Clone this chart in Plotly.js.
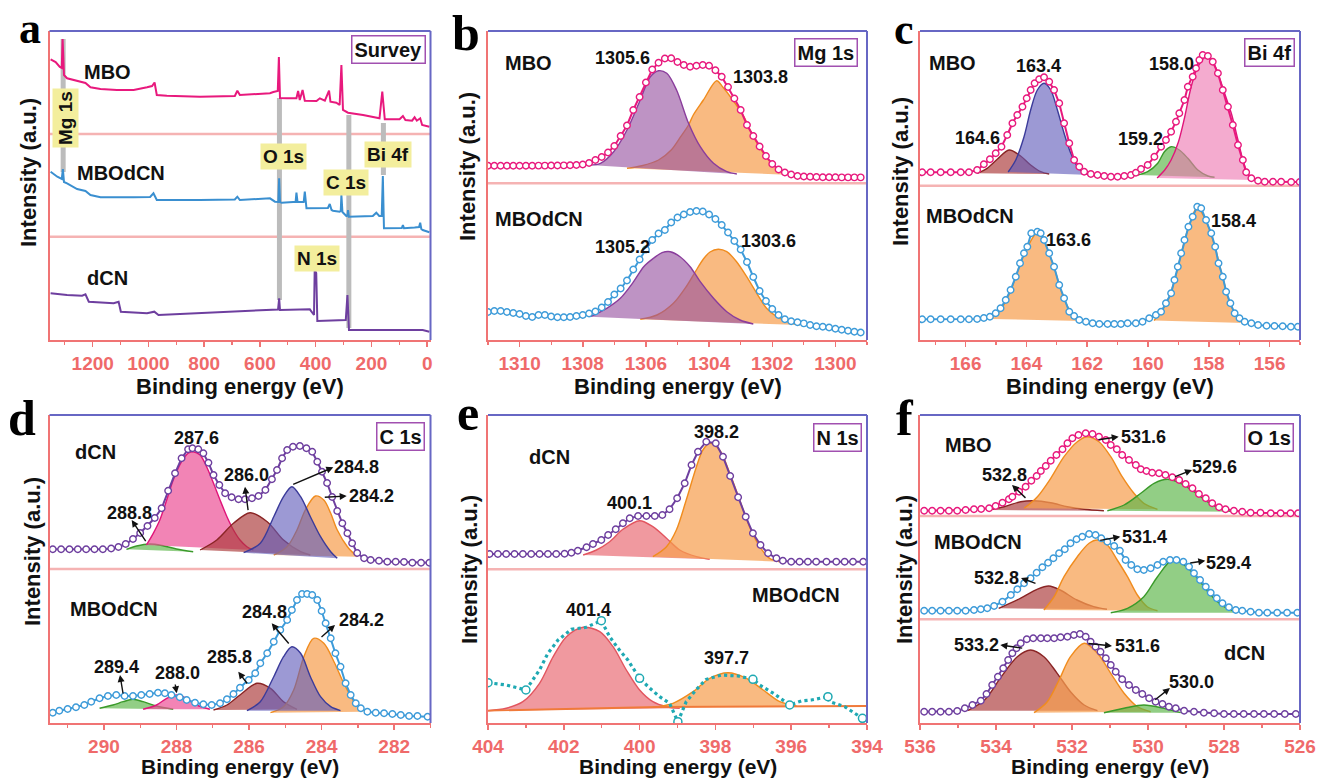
<!DOCTYPE html>
<html><head><meta charset="utf-8">
<script src="https://cdn.plot.ly/plotly-3.0.1.min.js"></script>
<style>html,body{margin:0;padding:0;background:#fff}#chart{width:1317px;height:779px}</style>
</head><body><div id="chart"></div>
<script>
// ---------------- DATA ----------------
// (a) Survey spectra: binding energy (eV) and stacked intensity (a.u.)
const a_mbo_x = [1351,1333,1318,1311,1308,1303,1292,1256,1226,1208,1172,1113,1053,1005,987,978,970,934,815,690,681,672,564,552,536,532,528,504,469,463,457,447,439,397,385,367,352,347,326,314,307.7,302,284,230,171,161,152,99,87,78,54,45,37,25,18,-8];
const a_mbo_y = [279.7,277,272,271,300,264,260.7,258,256,251.7,250,249,249,251.7,253,256.5,244,243.3,242.3,243,248.3,244,245.7,247,248,282,241,240.7,240.7,248,239,249,238.3,238,240.7,238.3,248.3,237.3,236.3,234,274,229,226.3,224,220.7,247.3,219.7,219.7,223,219,218.3,221.7,218.3,220.7,214,212.3];
const a_bcn_x = [1351,1327,1311,1307,1303,1292,1256,1226,1208,1172,1053,994,982,970,815,690,681,672,564,546,534,531,528,522,481,472,469,465,443,439,433,385,356,349.5,343,338,314,310,307.7,304,290,286,284,281,195,182.5,172,163,159,155,150,99,91,87,83,45,29,25,21,16,-8];
const a_bcn_y = [167.3,162.3,160,170,157,155.7,150,148,144,141.7,141.7,142,145.7,139,139,139.5,142.3,139,140.7,137.3,137,160.7,137,136.3,137,137,146.3,137,137,147.3,130.7,130.7,131,135,129,128.3,127.3,128,144,127,123,123.5,129,122.3,123,126.3,123,123,163,110.7,110.7,110.7,111,114,110.7,111.5,112,116.3,110,109,106.7];
const a_dcn_x = [1351,1292,1238,1226,1214,1125,1107,1099,1005,979,964,815,552,535,531,528,421,409,406,403.5,398,394,314,295,292,286,280.5,16,-8];
const a_dcn_y = [45.7,44,43.3,44.7,37.3,35.7,37.3,27.3,25.7,27.3,24,25.7,29,29.5,40.7,29,29.7,24,24,69,66,18,19,19.5,19,44,9,9,7.3];
const a_bar_ev = [1306, 530, 281, 157];
const a_bar_top = [300, 241, 224, 216];
const a_bar_bot = [167, 39, 11, 164];

// (b) Mg 1s
const b_x = [1311.0,1310.8,1310.6,1310.4,1310.2,1310.0,1309.8,1309.6,1309.4,1309.2,1309.0,1308.8,1308.6,1308.4,1308.2,1308.0,1307.8,1307.6,1307.4,1307.2,1307.0,1306.8,1306.6,1306.4,1306.2,1306.0,1305.8,1305.6,1305.4,1305.2,1305.0,1304.8,1304.6,1304.4,1304.2,1304.0,1303.8,1303.6,1303.4,1303.2,1303.0,1302.8,1302.6,1302.4,1302.2,1302.0,1301.8,1301.6,1301.4,1301.2,1301.0,1300.8,1300.6,1300.4,1300.2,1300.0,1299.8,1299.6,1299.4,1299.2];
const b_mbo_env = [173.3,173.3,173.3,173.3,173.3,173.3,173.3,173.3,173.4,173.4,173.5,173.5,173.6,173.8,174,174.5,176,179,182,186.5,193,203,213.5,229,242,256.5,269.5,276.3,280.5,280.7,277,274,272.3,273.3,274,273.3,268.7,262.3,252,240.5,229,214,203,192.5,183,175,169.5,166.5,164.5,163,162.5,162.2,162,161.8,161.7,161.7,161.6,161.6,161.6,161.6];
const b_bcn_env = [27,28,28,27,26,25,23,22,24,24,22.5,21.7,21.7,22,23,24,25.5,27.5,31.5,37,44.5,50.5,58.5,69.5,79.5,89.5,99,105.5,109,116.5,121.5,124.5,127,128,127.5,124.5,120,114,106.5,98,89.5,77,62,48,38,30,24,19.7,17.8,16.7,15.6,14,12.8,12.3,11.5,10.3,9.2,8.2,7.2,6.5];
const b_mbo_p1_x = [1307.8,1307.44,1307.02,1306.6,1306.18,1305.86,1305.6,1305.34,1305.03,1304.65,1304.28,1303.86,1303.44,1303.12];
const b_mbo_p1_y = [174,175.7,187.3,209,239,262.3,268.3,265.7,249,215.7,192.3,175.7,167.3,165];
const b_mbo_p2_x = [1306.6,1306.13,1305.6,1305.2,1304.9,1304.65,1304.5,1304.18,1303.76,1303.56,1303.25,1302.9,1302.6,1302.28,1301.97,1301.65,1301.34];
const b_mbo_p2_y = [170.7,173.3,179,189,202.3,214,224,239,258.3,251.7,239,222.3,202.3,185.7,174,167.3,164];
const b_bcn_p1_x = [1307.76,1307.24,1306.81,1306.39,1306.07,1305.76,1305.49,1305.23,1304.92,1304.6,1304.28,1303.86,1303.44,1303.02,1302.6];
const b_bcn_p1_y = [22.3,30.7,40.7,57.3,72.3,80.7,86.3,87.3,82.3,72.3,57.3,40.7,27.3,19,15];
const b_bcn_p2_x = [1306.18,1305.65,1305.13,1304.71,1304.44,1304.18,1303.97,1303.71,1303.44,1303.13,1302.81,1302.49,1302.18,1301.86,1301.44,1301.13];
const b_bcn_p2_y = [19.7,24,35.7,53,67,80,87,89.7,87.3,77.3,62.3,45.7,30.7,22.3,16.3,14];

// (c) Bi 4f
const c_mbo_x = [167.43,167.15,166.82,166.49,166.16,165.89,165.62,165.4,165.2,165.01,164.82,164.63,164.46,164.3,164.13,163.99,163.86,163.73,163.58,163.42,163.25,163.09,162.92,162.76,162.59,162.43,162.26,162.1,161.88,161.66,161.44,161.22,161.0,160.78,160.56,160.4,160.23,160.01,159.79,159.57,159.41,159.24,159.08,158.97,158.8,158.69,158.53,158.42,158.31,158.2,158.03,157.87,157.7,157.54,157.37,157.21,157.04,156.88,156.77,156.6,156.38,156.16,155.89,155.62,155.29,155.01];
const c_mbo_y = [167.7,167.7,167.7,167.7,167.7,167.7,170,175.7,180.7,186.7,193.3,205,216.7,225,233.3,241.7,250,256.7,260.7,262.7,258.3,250,236.7,216.7,196.7,180,173.3,168.3,166,165,164,163.3,163.3,164,165,167.3,171,175,183.3,193.3,200,208.3,218.3,226.7,240,253.3,263.3,271.7,280,285,284,278.3,266.7,250,233.3,215,195,180,167.7,161.7,159.3,158.3,158.3,158.3,158,158];
const c_bcn_x = [167.43,167.15,166.82,166.49,166.16,165.89,165.62,165.4,165.2,165.01,164.85,164.68,164.52,164.35,164.21,164.08,163.97,163.84,163.64,163.53,163.42,163.25,163.09,162.92,162.76,162.59,162.43,162.26,162.04,161.82,161.6,161.33,161.11,160.89,160.67,160.4,160.18,159.96,159.74,159.57,159.41,159.24,159.13,159.02,158.91,158.8,158.67,158.53,158.38,158.25,158.09,157.92,157.79,157.68,157.54,157.43,157.29,157.15,156.99,156.82,156.6,156.38,156.1,155.84,155.57,155.3,155.07];
const c_bcn_y = [20.7,20.7,20.7,20.7,20.7,20.7,21,22,23.3,26.7,31.7,40,50,63.3,76.7,86.7,93.3,106.7,108.3,106.7,100,86.7,73.3,55,41.7,28.3,24,20,18.3,16.7,16,16,16,16,16.7,16.7,18.3,21.7,25,28.3,36.7,46.7,60,73.3,86.7,100,113.3,123.3,133.3,131.7,120,106.7,93.3,76.7,63.3,48.3,36.7,26.7,21.7,18.3,16.7,15,14.3,14,13.7,13.3,13.3];
const c_mbo_r_x = [165.62,165.29,164.96,164.57,164.19,163.86,163.53,163.25];
const c_mbo_r_y = [166.7,171.7,180.7,190,184,175,168.3,166];
const c_mbo_b_x = [164.6,164.35,164.08,163.86,163.64,163.42,163.2,162.98,162.76,162.54,162.32,162.1,161.88];
const c_mbo_b_y = [168,180,203,230,250,256.7,250,230,206.7,186.7,173.3,166.7,165];
const c_mbo_g_x = [160.34,160.01,159.68,159.46,159.24,158.97,158.69,158.36,158.03,157.81];
const c_mbo_g_y = [165,168.3,176.7,188.3,193.3,190,181.7,170,164,162.7];
const c_mbo_p_x = [159.7,159.45,159.24,159.0,158.8,158.58,158.36,158.09,157.87,157.7,157.48,157.26,157.04,156.88,156.71,156.5];
const c_mbo_p_y = [162,170,180,198,222,253.3,273.3,283.3,278.3,266.7,246.7,226.7,200,180,166,160];
const c_bcn_o1_x = [165.2,164.85,164.52,164.21,163.97,163.64,163.42,163.09,162.76,162.43,162.2];
const c_bcn_o1_y = [21,30,49,75.5,92.5,107.5,99,72.5,41,23,19];
const c_bcn_o2_x = [159.8,159.41,159.13,158.91,158.67,158.38,158.09,157.79,157.54,157.29,157.0,156.8];
const c_bcn_o2_y = [19.5,35.5,59,86,112.5,132.5,119,92.5,62.5,36,20.5,17];

// (d) C 1s
const d_dcn_x = [291.41,291.18,290.95,290.72,290.49,290.26,290.03,289.8,289.6,289.4,289.2,289.0,288.8,288.6,288.41,288.23,288.04,287.86,287.68,287.56,287.4,287.26,287.12,286.98,286.82,286.66,286.48,286.29,286.11,285.92,285.74,285.55,285.37,285.23,285.09,284.95,284.79,284.6,284.42,284.26,284.12,283.99,283.85,283.71,283.57,283.43,283.29,283.16,283.02,282.83,282.65,282.42,282.19,281.96,281.73,281.5,281.26,281.03];
const d_dcn_y = [173.7,173.7,173.7,173.7,173.7,173.7,173.7,174.5,176,179,184,190,197,205,214.7,232.3,249.7,264.7,273.7,274.7,273.7,269.7,260.3,248,238,229.7,225.7,223.7,223.7,224.7,227,233,243.7,253,264.7,273,276.3,277,274.7,271.3,261.3,251.3,240,226,212,199.7,189.7,179.7,170,164.7,163,162.3,161.3,161.3,161,160.3,160.3,160.3];
const d_bcn_x = [291.41,291.23,291.0,290.77,290.54,290.35,290.12,289.89,289.66,289.43,289.2,288.97,288.74,288.51,288.32,288.14,287.91,287.72,287.49,287.26,287.03,286.8,286.61,286.43,286.25,286.01,285.83,285.69,285.5,285.32,285.14,284.95,284.82,284.68,284.54,284.4,284.26,284.12,284.0,283.89,283.75,283.62,283.48,283.34,283.2,283.06,282.92,282.74,282.51,282.28,282.05,281.82,281.59,281.36,281.08];
const d_bcn_y = [10.3,12.3,14,15.7,18,21.3,24.7,27,28,27,27,28,29,30.3,29.7,28,25.7,23,20.3,18.7,18,19.7,23.7,29,35.3,43,49.7,59.7,69.7,81.3,93,103,113,123,129,129,128,123,112,99.7,84.7,69.7,56.3,39.7,28,19.7,14.7,11.3,10.3,9.7,9,8,7,7,6.3];
const d_dcn_g_x = [289.38,289.1,288.74,288.4,288.0,287.54];
const d_dcn_g_y = [173.7,177,179,177.5,174,171.3];
const d_dcn_pk_x = [288.83,288.64,288.46,288.27,288.09,287.86,287.68,287.54,287.35,287.17,286.98,286.8,286.61,286.43,286.25,286.06,285.88];
const d_dcn_pk_y = [178,189.7,203,223,243,261.3,269.7,271.3,268,256.3,239.7,223,206.3,193,183,176.3,173];
const d_dcn_br_x = [287.35,286.89,286.43,285.97,285.5,285.05,284.58,284.31];
const d_dcn_br_y = [173,183,199.7,210.3,201.3,183,171.3,168];
const d_dcn_bl_x = [286.15,285.69,285.32,285.05,284.82,284.58,284.31,284.03,283.75,283.57];
const d_dcn_bl_y = [170.3,179.7,206.3,226.3,236.3,226.3,206.3,186.3,171.3,164.7];
const d_dcn_or_x = [285.32,284.95,284.68,284.45,284.17,283.94,283.75,283.57,283.29,283.02];
const d_dcn_or_y = [168,176.3,193,213,227,223,209.7,193,176.3,166.3];
const d_bcn_g_x = [290.12,289.75,289.47,289.2,288.92,288.55,288.09];
const d_bcn_g_y = [14.7,18,21.3,23.7,21.3,17,13.7];
const d_bcn_pk_x = [288.92,288.55,288.27,288.0,287.72,287.44,287.08];
const d_bcn_pk_y = [13.7,18,24.7,28,24.7,18,13.7];
const d_bcn_br_x = [286.98,286.61,286.25,285.78,285.41,285.05,284.68];
const d_bcn_br_y = [13,18,28,39.7,34.7,21.3,13.7];
const d_bcn_bl_x = [286.06,285.69,285.32,285.05,284.82,284.58,284.31,284.03,283.75,283.48];
const d_bcn_bl_y = [12.3,21.3,46.3,66.3,76.3,69.7,46.3,26.3,16.3,12.3];
const d_bcn_or_x = [285.41,285.05,284.77,284.49,284.22,283.94,283.66,283.39,283.11,282.88];
const d_bcn_or_y = [10.3,16.3,33,66.3,84.7,79.7,61.3,39.7,21.3,11.3];

// (e) N 1s
const e_dcn_x = [403.96,403.74,403.52,403.3,403.08,402.86,402.64,402.42,402.2,401.98,401.8,401.63,401.4,401.23,401.01,400.83,400.63,400.44,400.26,400.04,399.82,399.6,399.4,399.21,399.01,398.81,398.63,398.46,398.24,397.99,397.8,397.61,397.4,397.2,397.01,396.81,396.61,396.39,396.22,396.0,395.78,395.56,395.34,395.07,394.81,394.59,394.37,394.1];
const e_dcn_y = [169,169,169,169,169,169,169,169,169,169.3,170.3,172.3,175.7,179,183,188,193.7,199.7,204.7,207,207,207,208,213.7,224.7,239.7,258,271.3,281.3,279.7,266.3,247,225.7,206.3,189.7,178,169.7,164.7,162.3,161.3,161.3,161.3,161.3,161.3,161.3,161.3,161.3,161.3];
const e_dcn_r_x = [401.49,401.14,400.79,400.44,400.0,399.65,399.29,398.94,398.5,398.15];
const e_dcn_r_y = [168,173,181.3,193.7,202.3,196.3,184.7,173,166.3,163.7];
const e_dcn_o_x = [399.65,399.29,399.03,398.77,398.5,398.33,398.15,397.89,397.62,397.36,397.1,396.83,396.57,396.3];
const e_dcn_o_y = [166.3,176.3,193,223,256.3,273,279.7,273,249.7,223,196.3,176.3,164.7,161.3];
const e_bcn_x = [404.0,403.52,403.0,402.64,402.42,402.15,401.8,401.41,401.01,400.79,400.57,400.31,400.0,399.73,399.47,399.21,398.99,398.77,398.5,398.24,397.84,397.4,397.01,396.83,396.44,396.04,395.73,395.47,395.03,394.99,394.59,394.12];
const e_bcn_y = [40.3,38,33,53,69.7,83,93.7,95.7,102.3,86.3,74.7,63,44.7,34.7,26.3,19.7,1.3,21.3,33.7,43.7,48,47,43.7,38,29,18,22,23,26.3,21.3,16.3,4.7];
const e_bcn_pt_x = [404.0,403.0,401.01,400.0,398.99,397.01,396.04,395.03,394.12];
const e_bcn_pt_y = [40.3,33,102.3,44.7,1.3,43.7,18,26.3,4.7];
const e_bcn_r_x = [404.0,403.52,403.08,402.64,402.28,401.93,401.49,401.05,400.7,400.35,400.0,399.65,399.29,398.94];
const e_bcn_r_y = [12.3,14.7,21.3,39.7,66.3,86.3,95.7,91.3,76.3,53,33,21.3,16.3,14.7];
const e_bcn_o_x = [399.65,399.12,398.59,398.15,397.67,397.18,396.74,396.3,395.86];
const e_bcn_o_y = [15.7,19.7,31.3,44.7,50.3,44.7,33,21.3,17];
const e_bcn_base_x = [404, 399.5, 394];
const e_bcn_base_y = [12.3, 16, 17];

// (f) O 1s
const f_mbo_x = [535.89,535.68,535.46,535.24,535.02,534.8,534.58,534.39,534.18,534.01,533.83,533.66,533.57,533.39,533.22,533.07,532.93,532.82,532.69,532.56,532.41,532.25,532.12,531.99,531.83,531.64,531.46,531.29,531.11,530.98,530.82,530.68,530.5,530.32,530.19,530.04,529.89,529.71,529.54,529.36,529.18,529.01,528.83,528.66,528.48,528.31,528.13,527.96,527.74,527.52,527.3,527.04,526.77,526.51,526.25,526.05];
const f_mbo_y = [212.3,212.3,212.3,212.3,212.3,213,213.7,214,214.7,217,220.3,223.7,226.3,231.3,236.3,242.3,247,252,257,262.3,268,273.7,279.7,284.7,288,289.7,289,286.3,283,278,273.7,268,263,258,253.7,252,250.3,249.7,248,245.7,243,239,234.7,229,224.7,219.7,215.7,213.7,212.3,211.3,210.3,210.3,209.7,209.7,209.7,209.7];
const f_bcn_x = [535.89,535.68,535.46,535.24,535.02,534.8,534.58,534.4,534.23,534.05,533.83,533.61,533.44,533.26,533.09,532.93,532.78,532.63,532.49,532.34,532.19,532.04,531.88,531.73,531.55,531.38,531.23,531.07,530.89,530.74,530.59,530.44,530.28,530.11,529.93,529.75,529.6,529.42,529.25,529.07,528.92,528.79,528.63,528.48,528.35,528.19,528.04,527.87,527.69,527.52,527.3,527.08,526.86,526.6,526.34,526.07];
const f_bcn_y = [112.3,112.3,112.3,112.3,112.3,112.3,113,113.7,114.7,117,121.3,128,133.7,139.7,144.7,150.3,155.7,160.3,164.7,169.7,173.7,179.7,183.7,186.3,189,188,184.7,181.3,177,172.3,163,158,153.7,153,154.7,158,161.3,163,163,161.3,156.3,149.7,143,136.3,130.3,124.7,119.7,115.7,113,112.3,111.3,110.3,110.3,110.3,110.3,110.3];
const f_dcn_x = [535.89,535.68,535.46,535.24,535.02,534.82,534.62,534.4,534.25,534.1,533.95,533.81,533.68,533.57,533.46,533.35,533.19,533.02,532.82,532.65,532.47,532.3,532.12,531.95,531.79,531.64,531.51,531.38,531.25,531.11,530.98,530.85,530.68,530.5,530.32,530.15,529.97,529.8,529.62,529.45,529.27,529.05,528.79,528.53,528.26,528.0,527.74,527.48,527.21,526.95,526.68,526.4,526.11];
const f_dcn_y = [11.3,11.3,11.3,11.3,12,14.7,18,22.3,29,38,46.3,54.7,63,69.7,74.7,79.7,83.7,84.7,84.7,84.7,84.7,85.7,86.3,88,89,86.3,81.3,76.3,71.3,64.7,58,51.3,43.7,38,33,29,24.7,21.3,19,16.3,14.7,12.3,11.3,10.3,9.7,9,9,9,9,9,9,9,9];
const f_mbo_br_x = [534.23,533.79,533.35,533.0,532.56,532.12,531.68,531.16];
const f_mbo_br_y = [213,216.3,221.3,222.3,220.3,216.3,213.7,212.3];
const f_mbo_or_x = [533.26,532.91,532.56,532.21,531.86,531.6,531.29,530.98,530.68,530.37,530.11,529.75];
const f_mbo_or_y = [214.7,226.3,244.7,266.3,281.3,286.3,281.3,266.3,246.3,229.7,219.7,213.7];
const f_mbo_gr_x = [531.07,530.63,530.19,529.84,529.49,529.14,528.79,528.44,528.09,527.74];
const f_mbo_gr_y = [212.3,218,229.7,239.7,243.7,239.7,231.3,221.3,214,211.3];
const f_bcn_br_x = [533.93,533.36,532.92,532.61,532.31,531.87,531.43,531.08];
const f_bcn_br_y = [114.7,124.7,133.7,137,133,123,116.3,113.7];
const f_bcn_or_x = [532.74,532.47,532.21,531.86,531.55,531.33,531.07,530.81,530.54,530.28,530.02,529.75];
const f_bcn_or_y = [113,126.3,146.3,166.3,179.7,183,178,163,146.3,128,116.3,112.3];
const f_bcn_gr_x = [530.98,530.54,530.11,529.75,529.36,529.05,528.7,528.35,528.0,527.65];
const f_bcn_gr_y = [110.3,114.7,126.3,146.3,163,158,144.7,128,116.3,110.3];
const f_dcn_br_x = [534.75,534.3,533.86,533.44,533.09,532.74,532.39,532.04,531.68,531.33];
const f_dcn_br_y = [12.3,23,46.3,66.3,73,66.3,49.7,31.3,18,12.3];
const f_dcn_or_x = [533.0,532.65,532.34,532.04,531.68,531.33,530.98,530.63,530.28,529.93];
const f_dcn_or_y = [10.3,21.3,43,66.3,79.7,69.7,49.7,29.7,16.3,11.3];
const f_dcn_gr_x = [531.16,530.63,530.11,529.58,529.14];
const f_dcn_gr_y = [10.3,14.7,18,14.7,10.3];

// separator levels (a.u.) between stacked spectra
const a_sep = [205, 102.3], b_sep = [155.7], c_sep = [154.3], d_sep = [154], e_sep = [153.7], f_sep = [207, 103.7];

// ---------------- STYLE / BUILD ----------------
const W = 1317, H = 779;
const SANS = 'Liberation Sans, Arial, sans-serif';
const SERIF = 'Liberation Serif, Times New Roman, serif';
const RED = '#f07474', TICK = '#ef6a6a', BLUEAX = '#6767c4';
const C_MBO = '#e8197d', C_BCN = '#3d9bd9', C_DCN = '#6e3f9f';
const ST = {
  pur: ['rgba(150,80,160,0.62)', '#8a3d9c'],
  ora: ['rgba(246,160,80,0.72)', '#f08c1e'],
  red: ['rgba(170,55,55,0.66)', '#8a2525'],
  blu: ['rgba(95,90,185,0.62)', '#3b3b9a'],
  grn: ['rgba(90,180,70,0.66)', '#3a9a2a'],
  pnk: ['rgba(236,80,150,0.7)', '#e0157a'],
  pnk2: ['rgba(238,120,178,0.62)', '#e0157a'],
  sal: ['rgba(232,100,110,0.66)', '#e2555f']
};
const traces = [];
function ax(n){ return n === 1 ? '' : String(n); }
function comp(n, x, y, st) {
  traces.push({type:'scatter', mode:'lines', x:x, y:y, xaxis:'x'+ax(n), yaxis:'y'+ax(n),
    fill:'toself', fillcolor:ST[st][0], line:{color:ST[st][1], width:1.4, shape:'spline', smoothing:0.9},
    hoverinfo:'skip', showlegend:false});
}
function env(n, x, y, color, size) {
  traces.push({type:'scatter', mode:'lines+markers', x:x, y:y, xaxis:'x'+ax(n), yaxis:'y'+ax(n),
    line:{color:color, width:2}, marker:{symbol:'circle', size:size||6.5, color:'#ffffff', line:{color:color, width:1.4}},
    hoverinfo:'skip', showlegend:false});
}
function line(n, x, y, color, width, dash) {
  traces.push({type:'scatter', mode:'lines', x:x, y:y, xaxis:'x'+ax(n), yaxis:'y'+ax(n),
    line:{color:color, width:width, dash:dash||'solid'}, hoverinfo:'skip', showlegend:false});
}

// (a)
line(1, a_mbo_x, a_mbo_y, C_MBO, 2);
line(1, a_bcn_x, a_bcn_y, '#3a8fd0', 2);
line(1, a_dcn_x, a_dcn_y, C_DCN, 2);
// (b)
comp(2, b_mbo_p2_x, b_mbo_p2_y, 'ora'); comp(2, b_mbo_p1_x, b_mbo_p1_y, 'pur'); env(2, b_x, b_mbo_env, C_MBO);
comp(2, b_bcn_p2_x, b_bcn_p2_y, 'ora'); comp(2, b_bcn_p1_x, b_bcn_p1_y, 'pur'); env(2, b_x, b_bcn_env, C_BCN);
// (c)
comp(3, c_mbo_r_x, c_mbo_r_y, 'red'); comp(3, c_mbo_b_x, c_mbo_b_y, 'blu');
comp(3, c_mbo_g_x, c_mbo_g_y, 'grn'); comp(3, c_mbo_p_x, c_mbo_p_y, 'pnk2'); env(3, c_mbo_x, c_mbo_y, C_MBO);
comp(3, c_bcn_o1_x, c_bcn_o1_y, 'ora'); comp(3, c_bcn_o2_x, c_bcn_o2_y, 'ora'); env(3, c_bcn_x, c_bcn_y, C_BCN);
// (d)
comp(4, d_dcn_g_x, d_dcn_g_y, 'grn'); comp(4, d_dcn_pk_x, d_dcn_pk_y, 'pnk'); comp(4, d_dcn_br_x, d_dcn_br_y, 'red');
comp(4, d_dcn_or_x, d_dcn_or_y, 'ora'); comp(4, d_dcn_bl_x, d_dcn_bl_y, 'blu'); env(4, d_dcn_x, d_dcn_y, C_DCN);
comp(4, d_bcn_g_x, d_bcn_g_y, 'grn'); comp(4, d_bcn_pk_x, d_bcn_pk_y, 'pnk'); comp(4, d_bcn_br_x, d_bcn_br_y, 'red');
comp(4, d_bcn_or_x, d_bcn_or_y, 'ora'); comp(4, d_bcn_bl_x, d_bcn_bl_y, 'blu'); env(4, d_bcn_x, d_bcn_y, C_BCN);
// (e)
comp(5, e_dcn_r_x, e_dcn_r_y, 'sal'); comp(5, e_dcn_o_x, e_dcn_o_y, 'ora'); env(5, e_dcn_x, e_dcn_y, C_DCN);
comp(5, e_bcn_r_x, e_bcn_r_y, 'sal'); comp(5, e_bcn_o_x, e_bcn_o_y, 'ora');
line(5, e_bcn_base_x, e_bcn_base_y, '#f07a3a', 1.8);
line(5, e_bcn_x, e_bcn_y, '#1fa9b3', 3.2, 'dot');
traces.push({type:'scatter', mode:'markers', x:e_bcn_pt_x, y:e_bcn_pt_y, xaxis:'x5', yaxis:'y5',
  marker:{symbol:'circle', size:8, color:'#ffffff', line:{color:'#1fa9b3', width:1.5}}, hoverinfo:'skip', showlegend:false});
// (f)
comp(6, f_mbo_br_x, f_mbo_br_y, 'red'); comp(6, f_mbo_or_x, f_mbo_or_y, 'ora'); comp(6, f_mbo_gr_x, f_mbo_gr_y, 'grn'); env(6, f_mbo_x, f_mbo_y, C_MBO);
comp(6, f_bcn_br_x, f_bcn_br_y, 'red'); comp(6, f_bcn_or_x, f_bcn_or_y, 'ora'); comp(6, f_bcn_gr_x, f_bcn_gr_y, 'grn'); env(6, f_bcn_x, f_bcn_y, C_BCN);
comp(6, f_dcn_br_x, f_dcn_br_y, 'red'); comp(6, f_dcn_or_x, f_dcn_or_y, 'ora'); comp(6, f_dcn_gr_x, f_dcn_gr_y, 'grn'); env(6, f_dcn_x, f_dcn_y, C_DCN);

// axes
const COLS = [[49.5,430.5],[488,867],[920,1300]];
const ROWS = [[31,340],[415,723]];
function dx(c){ return [c[0]/W, c[1]/W]; }
function dy(r){ return [1 - r[1]/H, 1 - r[0]/H]; }
function xa(n, col, row, range, dtick, tick0, minor) {
  return {domain:dx(COLS[col]), range:range, anchor:'y'+ax(n), showline:true, linecolor:RED, linewidth:2,
    ticks:'outside', ticklen:5, tickwidth:1.5, tickcolor:RED, dtick:dtick, tick0:tick0,
    tickfont:{family:SANS, size:19, color:TICK, weight:'bold'},
    minor:{ticks:'outside', dtick:minor, ticklen:3, tickwidth:1.2, tickcolor:RED},
    showgrid:false, zeroline:false, fixedrange:true};
}
function yaF(n, col, row, range) {
  return {domain:dy(ROWS[row]), range:range, anchor:'x'+ax(n), showline:true, linecolor:RED, linewidth:2,
    ticks:'', showticklabels:false, showgrid:false, zeroline:false, fixedrange:true};
}
const layout = {
  width:W, height:H, margin:{l:0,r:0,t:0,b:0}, paper_bgcolor:'#ffffff', plot_bgcolor:'rgba(0,0,0,0)',
  showlegend:false, hovermode:false,
  xaxis: xa(1,0,0,[1355,-12],200,0,100), yaxis: yaF(1,0,0,[-1,308]),
  xaxis2: xa(2,1,0,[1311,1299],2,1300,1), yaxis2: yaF(2,1,0,[-1,308]),
  xaxis3: xa(3,2,0,[167.5,155],2,156,1), yaxis3: yaF(3,2,0,[0,309]),
  xaxis4: xa(4,0,1,[291.5,281],2,282,1), yaxis4: yaF(4,0,1,[0,308]),
  xaxis5: xa(5,1,1,[404,394],2,394,1), yaxis5: yaF(5,1,1,[0,308]),
  xaxis6: xa(6,2,1,[536,526],2,526,1), yaxis6: yaF(6,2,1,[0,308]),
  shapes: [], annotations: []
};
const shapes = layout.shapes;
for (let n = 1; n <= 6; n++) {
  shapes.push({type:'line', xref:'x'+ax(n)+' domain', yref:'y'+ax(n)+' domain', x0:0, x1:1, y0:1, y1:1, line:{color:BLUEAX, width:2}});
  shapes.push({type:'line', xref:'x'+ax(n)+' domain', yref:'y'+ax(n)+' domain', x0:1, x1:1, y0:0, y1:1, line:{color:BLUEAX, width:2}});
}
function seps(n, arr) { arr.forEach(v => shapes.push({type:'line', xref:'x'+ax(n)+' domain', yref:'y'+ax(n), x0:0, x1:1, y0:v, y1:v, line:{color:'#f5b3b3', width:2.5}, layer:'below'})); }
seps(1,a_sep); seps(2,b_sep); seps(3,c_sep); seps(4,d_sep); seps(5,e_sep); seps(6,f_sep);
a_bar_ev.forEach((e,i) => shapes.push({type:'line', xref:'x', yref:'y', x0:e, x1:e, y0:a_bar_bot[i], y1:a_bar_top[i], line:{color:'#bcbcbc', width:5}, layer:'below'}));

const ann = layout.annotations;
function T(text, px, py, size, extra) {
  ann.push(Object.assign({xref:'paper', yref:'paper', x:px/W, y:1-py/H, text:text, showarrow:false,
    xanchor:'center', yanchor:'middle', font:{family:SANS, size:size, color:'#111111', weight:'bold'}}, extra||{}));
}
function A(hx, hy, tx, ty) {
  ann.push({xref:'paper', yref:'paper', x:hx/W, y:1-hy/H, ax:tx-hx, ay:ty-hy, text:'', showarrow:true,
    arrowhead:2, arrowsize:1, arrowwidth:1.4, arrowcolor:'#111111'});
}
// panel letters
[['a',30,28,44],['b',466,33,50],['c',904,30,44],['d',22,418,50],['e',468,413,50],['f',905,418,50]].forEach(l =>
  T(l[0], l[1], l[2], l[3], {font:{family:SERIF, size:l[3], color:'#000000', weight:'bold'}}));
// axis titles
[[240,386,22],[677.5,386,22],[1110,386,22],[240,766,21],[677.5,766,21],[1110,766,21]].forEach(p => T('Binding energy (eV)', p[0], p[1], p[2]));
[[28,173],[467,167],[901,172],[32,552],[469,570],[904,570]].forEach(p => T('Intensity (a.u.)', p[0], p[1], 22, {textangle:-90}));
// sample and peak labels
[['MBO',107,72,20],['MBOdCN',121,173,20],['dCN',107,278,20],
 ['MBO',528,63,20],['1305.6',622,58,18],['1303.8',760,77,18],['MBOdCN',539,219,20],['1305.2',622,247,18],['1303.6',768,241,18],
 ['MBO',952,63,20],['163.4',1038,66,18],['164.6',977,138,18],['159.2',1140,139,18],['158.0',1171,64,18],['MBOdCN',970,216,20],['163.6',1068,240,18],['158.4',1233,221,18],
 ['dCN',95,452,20],['287.6',196,438,18],['286.0',246,475,18],['284.8',356,467,18],['284.2',371,496,18],['288.8',129,513,18],['MBOdCN',114,609,20],['284.8',264,612,18],['284.2',361,620,18],['285.8',229,657,18],['289.4',116,667,18],['288.0',177,673,18],
 ['dCN',549,457,20],['398.2',716,432,18],['400.1',629,503,18],['MBOdCN',796,595,20],['401.4',588,610,18],['397.7',726,658,18],
 ['MBO',968,445,20],['531.6',1143,437,18],['529.6',1214,467,18],['532.8',1004,475,18],['MBOdCN',978,542,20],['531.4',1144,537,18],['529.4',1228,563,18],['532.8',997,578,18],['533.2',976,645,18],['531.6',1137,646,18],['dCN',1244,653,20],['530.0',1191,682,18]
].forEach(l => T(l[0], l[1], l[2], l[3]));
// boxed region labels
[['Survey',388,50],['Mg 1s',826,52],['Bi 4f',1269,52],['C 1s',400,436],['N 1s',838,437],['O 1s',1269,437]].forEach(l =>
  T(l[0], l[1], l[2], 20, {bordercolor:'#a150b0', borderwidth:1.5, bgcolor:'#ffffff', borderpad:2}));
// yellow element labels on the survey
T('Mg 1s', 65, 118, 19, {bgcolor:'#f3ee9d', borderpad:2, textangle:-90});
[['O 1s',283,156],['Bi 4f',388,154],['C 1s',346,182],['N 1s',317,258]].forEach(l =>
  T(l[0], l[1], l[2], 19, {bgcolor:'#f3ee9d', borderpad:2}));
// arrows (head at label)
[[131.7,520,146.7,542.7],[245,486.7,248.3,511.7],[333.3,467.3,291.7,485],[346.7,496,323.3,497.3],
 [271.7,623.3,290,645],[335,625,320,638.3],[238.3,671.7,248.3,685],[120,675,123.3,695],[176.7,693.3,175,683],
 [1118.7,436.7,1097,440],[1192,470,1173.7,477.3],[1012,485,1027,499.3],[1120.3,536.7,1098.7,540.7],
 [1205.3,560.7,1188.7,563.3],[1021,578,1037,584],[1000.3,645,1023.7,648.3],[1112,646,1087,643.3],[1170,688,1153.7,701]
].forEach(a => A(a[0], a[1], a[2], a[3]));

Plotly.newPlot('chart', traces, layout, {staticPlot:true, displayModeBar:false});
</script></body></html>
